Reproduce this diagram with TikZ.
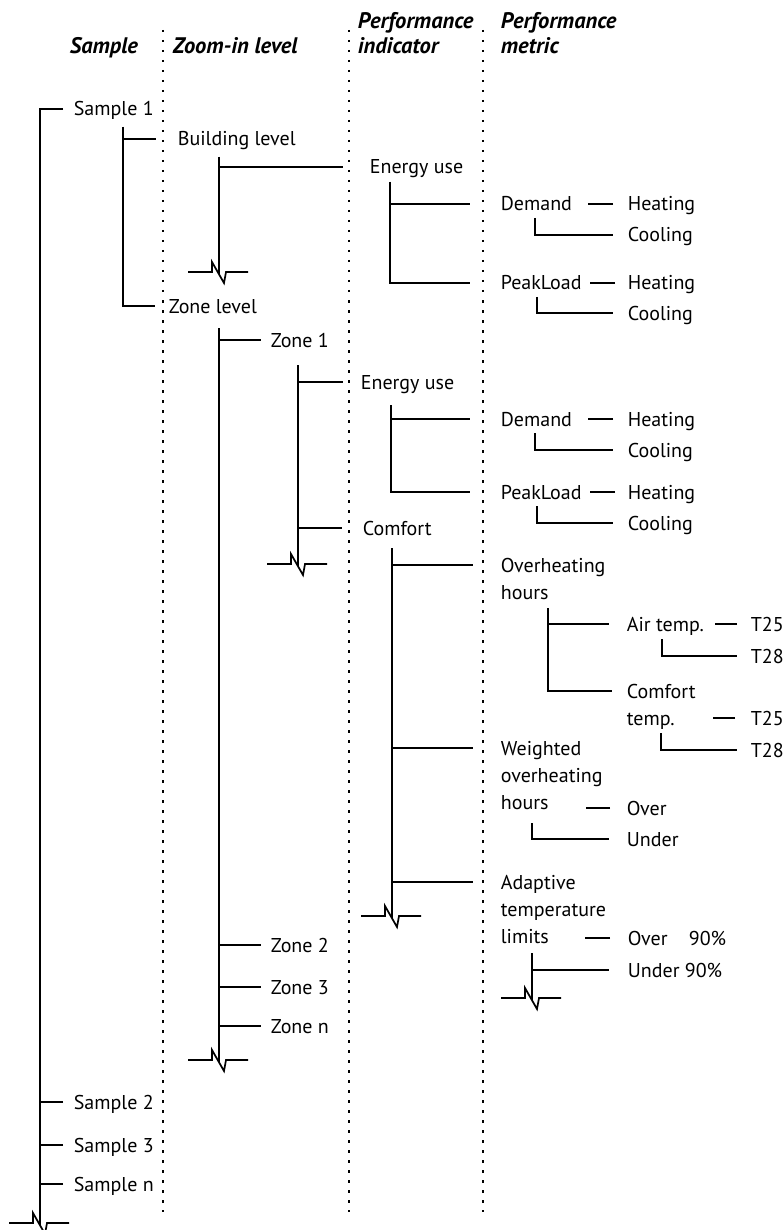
\documentclass[tikz,border=0pt]{standalone}
\usepackage{fontspec}
\setmainfont{PT Sans}
\newcommand{\tipat}[2]{([xshift=-#2pt,yshift=7pt]#1.base west)}
\newcommand{\hookat}[3]{([xshift=#2pt,yshift=-#3pt]#1.base west)}
\newcommand{\mlines}[1]{\begin{tabular}[t]{@{}l@{}}#1\end{tabular}}
\begin{document}
\begin{tikzpicture}[x=1pt,y=-1pt,line width=1.7pt,
  lbl/.style={anchor=base west,inner sep=0pt,font=\fontsize{20}{27}\selectfont},
  hdr/.style={anchor=base west,inner sep=0pt,font=\fontsize{22.5}{25}\selectfont\bfseries\itshape},
  col/.style={line width=1.6pt,dash pattern=on 2.5pt off 7.5pt},
  brk/.pic={\draw[line join=miter] (-31,0) -- (-7,0) -- (-7,-10) -- (5,11) -- (7,0) -- (29,0);}]
\useasboundingbox[fill=white] (0,0) rectangle (783,1230);

% column separators
\draw[col] (163,30) -- (163,1212);
\draw[col] (349,30) -- (349,1212);
\draw[col] (483,30) -- (483,1212);

% headers
\node[hdr] (hs) at (69,54) {Sample};
\node[hdr] (hz) at (172,54) {Zoom-in level};
\node[hdr] (hi) at (357,29) {\begin{tabular}[t]{@{}l@{}}Performance\\indicator\end{tabular}};
\node[hdr] (hm) at (500,29) {\begin{tabular}[t]{@{}l@{}}Performance\\metric\end{tabular}};

% level 1
\node[lbl] (s1) at (73,116) {Sample 1};
\node[lbl] (s2) at (73,1109) {Sample 2};
\node[lbl] (s3) at (73,1152) {Sample 3};
\node[lbl] (sn) at (73,1191) {Sample n};
\coordinate (b1) at (40,1223);
\draw \tipat{s1}{10} -| ([yshift=-2pt]b1);
\draw \tipat{s2}{10} -| (b1);
\draw \tipat{s3}{10} -| (b1);
\draw \tipat{sn}{10} -| (b1);
\pic at (b1) {brk};

% level 2
\node[lbl] (bl) at (177,146) {Building level};
\node[lbl] (zl) at (168,313) {Zone level};
\path \hookat{s1}{50}{11} coordinate (t2);
\draw (t2) |- \tipat{bl}{21};
\draw (t2) |- \tipat{zl}{13};

% building level
\node[lbl] (eu1) at (369,174) {Energy use};
\path \hookat{bl}{42}{11} coordinate (t3a);
\coordinate (b2) at (219,272);
\draw (t3a) |- \tipat{eu1}{26};
\draw (t3a) -- ([yshift=-2pt]b2);
\pic at (b2) {brk};

\node[lbl] (dm1) at (500,211) {Demand};
\node[lbl] (pk1) at (500,290) {PeakLoad};
\path \hookat{eu1}{21}{8} coordinate (t4a);
\draw (t4a) |- \tipat{dm1}{30};
\draw (t4a) |- \tipat{pk1}{30};
\node[lbl] (h1) at (627,211) {Heating};
\node[lbl] (c1) at (627,242) {Cooling};
\node[lbl] (h2) at (627,290) {Heating};
\node[lbl] (c2) at (627,320) {Cooling};
\draw \tipat{h1}{14} -- ++(-25,0);
\draw \hookat{dm1}{35}{7} |- \tipat{c1}{14};
\draw \tipat{h2}{12} -- ++(-25,0);
\draw \hookat{pk1}{37}{7} |- \tipat{c2}{14};

% zone level
\node[lbl] (z1) at (270,347) {Zone 1};
\node[lbl] (z2) at (270,952) {Zone 2};
\node[lbl] (z3) at (270,994) {Zone 3};
\node[lbl] (zn) at (270,1033) {Zone n};
\path \hookat{zl}{51}{15} coordinate (t3b);
\coordinate (b3) at (219,1060);
\draw (t3b) |- \tipat{z1}{9};
\draw (t3b) |- \tipat{z2}{9};
\draw (t3b) |- \tipat{z3}{9};
\draw (t3b) |- \tipat{zn}{9};
\draw (t3b) -- ([yshift=-2pt]b3);
\pic at (b3) {brk};

% zone 1
\node[lbl] (eu2) at (360,389) {Energy use};
\node[lbl] (cf) at (362,535) {Comfort};
\path \hookat{z1}{28}{18} coordinate (t4b);
\coordinate (b4) at (298,564);
\draw (t4b) |- \tipat{eu2}{17};
\draw (t4b) |- \tipat{cf}{20};
\draw (t4b) -- ([yshift=-2pt]b4);
\pic at (b4) {brk};

\node[lbl] (dm2) at (500,426) {Demand};
\node[lbl] (pk2) at (500,499) {PeakLoad};
\path \hookat{eu2}{31}{16} coordinate (t5b);
\draw (t5b) |- \tipat{dm2}{30};
\draw (t5b) |- \tipat{pk2}{30};
\node[lbl] (h3) at (627,426) {Heating};
\node[lbl] (c3) at (627,457) {Cooling};
\node[lbl] (h4) at (627,499) {Heating};
\node[lbl] (c4) at (627,530) {Cooling};
\draw \tipat{h3}{14} -- ++(-25,0);
\draw \hookat{dm2}{35}{7} |- \tipat{c3}{14};
\draw \tipat{h4}{12} -- ++(-25,0);
\draw \hookat{pk2}{37}{7} |- \tipat{c4}{14};

% comfort
\node[lbl] (oh) at (500,572) {\mlines{Overheating\\hours}};
\node[lbl] (wo) at (500,755) {\mlines{Weighted\\overheating\\hours}};
\node[lbl] (ad) at (500,889) {\mlines{Adaptive\\temperature\\limits}};
\path \hookat{cf}{30}{13} coordinate (t5c);
\coordinate (b5) at (392,916);
\draw (t5c) |- \tipat{oh}{27};
\draw (t5c) |- \tipat{wo}{27};
\draw (t5c) |- \tipat{ad}{27};
\draw (t5c) -- ([yshift=-2pt]b5);
\pic at (b5) {brk};

% overheating hours
\node[lbl] (at) at (626,631) {Air temp.};
\node[lbl] (ct) at (626,698) {\mlines{Comfort\\temp.}};
\path \hookat{oh}{48}{36} coordinate (t6);
\draw (t6) |- \tipat{at}{17};
\draw (t6) |- \tipat{ct}{14};
\node[lbl] (a25) at (750,631) {T25};
\node[lbl] (a28) at (750,663) {T28};
\node[lbl] (b25) at (750,725) {T25};
\node[lbl] (b28) at (750,757) {T28};
\draw \tipat{a25}{13} -- ++(-22,0);
\draw \hookat{at}{36}{8} |- \tipat{a28}{13};
\draw \tipat{b25}{15} -- ++(-22,0);
\draw \hookat{ct}{35}{35} |- \tipat{b28}{13};

% weighted overheating hours
\node[lbl] (wov) at (626,815) {Over};
\node[lbl] (wun) at (626,846) {Under};
\draw \tipat{wov}{16} -- ++(-24,0);
\draw \hookat{wo}{32}{68} |- \tipat{wun}{17};

% adaptive temperature limits
\node[lbl] (aov) at (627,945) {\makebox[61pt][l]{Over}90\%};
\node[lbl] (aun) at (627,977) {Under 90\%};
\draw \tipat{aov}{17} -- ++(-25,0);
\path \hookat{ad}{32}{64} coordinate (t7);
\coordinate (b6) at (532,998);
\draw (t7) |- \tipat{aun}{18};
\draw (t7) -- ([yshift=-2pt]b6);
\pic at (b6) {brk};
\end{tikzpicture}
\end{document}
